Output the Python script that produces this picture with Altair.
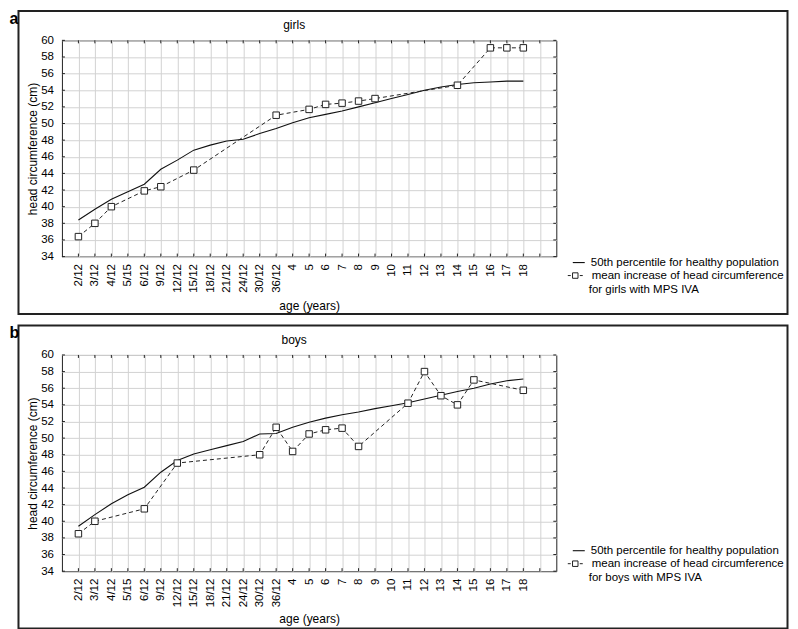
import json
import altair as alt
import pandas as pd

ages = ["2/12", "3/12", "4/12", "5/15", "6/12", "9/12", "12/12", "15/12", "18/12",
        "21/12", "24/12", "30/12", "36/12", "4", "5", "6", "7", "8", "9", "10",
        "11", "12", "13", "14", "15", "16", "17", "18"]

girls_p50 = [38.4, 39.7, 40.9, 41.8, 42.7, 44.5, 45.6, 46.8, 47.4, 47.9, 48.1, 48.8,
             49.4, 50.1, 50.7, 51.1, 51.5, 52.0, 52.5, 53.0, 53.5, 54.0, 54.4, 54.7,
             54.9, 55.0, 55.1, 55.1]
girls_mps = [36.4, 38.0, 40.0, None, 41.9, 42.4, None, 44.4, None, None, None, None,
             51.0, None, 51.7, 52.3, 52.45, 52.7, 53.0, None, None, None, None, 54.6,
             None, 59.1, 59.1, 59.1]

boys_p50 = [39.4, 40.8, 42.1, 43.2, 44.1, 45.9, 47.3, 48.1, 48.6, 49.1, 49.6, 50.5,
            50.55, 51.3, 51.9, 52.4, 52.8, 53.15, 53.55, 53.9, 54.25, 54.7, 55.15,
            55.6, 56.0, 56.5, 56.9, 57.1]
boys_mps = [38.5, 40.0, None, None, 41.5, None, 47.0, None, None, None, None, 48.0,
            51.3, 48.4, 50.5, 51.0, 51.2, 49.0, None, None, 54.2, 58.0, 55.1, 54.0,
            57.0, None, None, 55.75]

y_ticks = list(range(34, 61, 2))
x_ticks = list(range(len(ages) + 1))

FONT = "Liberation Sans"
W, H = 495, 216.5
LEFT = 61.5  # page x of plot left, used to express overlay positions
INK = "#222"


def panel(letter, title, p50, mps, legend_top, legend_text3, xtitle_y):
    df_p = pd.DataFrame({"i": list(range(len(ages))), "v": p50})
    df_m = pd.DataFrame({
        "i": [i for i, v in enumerate(mps) if v is not None],
        "v": [v for v in mps if v is not None],
    })
    df_xt = pd.DataFrame({"i": x_ticks})
    df_yt = pd.DataFrame({"v": y_ticks})
    one = pd.DataFrame({"k": [0]})

    label_expr = "datum.value < %d ? %s[datum.value] : ''" % (len(ages), json.dumps(ages))
    xscale = alt.Scale(domain=[-1, len(ages) + 1], nice=False, zero=False)
    yscale = alt.Scale(domain=[34, 60], nice=False, zero=False)
    x = alt.X("i:Q", scale=xscale,
              axis=alt.Axis(values=x_ticks, labelExpr=label_expr, labelAngle=270,
                            labelAlign="right", labelBaseline="middle",
                            labelOverlap=False,
                            title="age (years)", titleX=309 - LEFT, titleY=xtitle_y,
                            titleBaseline="middle", titleAlign="center"))
    y = alt.Y("v:Q", scale=yscale,
              axis=alt.Axis(values=y_ticks, labelOverlap=False,
                            title="head circumference (cm)",
                            titleX=-29.5, titleY=H / 2, titleAngle=270,
                            titleAlign="center", titleBaseline="middle"))

    # invisible frame that fixes the panel's extent
    guard = alt.Chart(one).mark_rect(fill="white", opacity=0).encode(
        x=alt.value(-53.5), x2=alt.value(728.5),
        y=alt.value(-31.5), y2=alt.value(276))

    box = alt.Chart(one).mark_rect(fill="transparent", stroke=INK, strokeWidth=2).encode(
        x=alt.value(18 - LEFT), x2=alt.value(788 - LEFT),
        y=alt.value(-29.5), y2=alt.value(274))

    # inward tick marks on all four sides of the plot frame
    tk = dict(color=INK, strokeWidth=1)
    t_bottom = alt.Chart(df_xt).mark_rule(**tk).encode(x=x, y=alt.value(H), y2=alt.value(H - 3))
    t_top = alt.Chart(df_xt).mark_rule(**tk).encode(x=x, y=alt.value(0), y2=alt.value(3))
    t_left = alt.Chart(df_yt).mark_rule(**tk).encode(y=y, x=alt.value(0), x2=alt.value(3))
    t_right = alt.Chart(df_yt).mark_rule(**tk).encode(y=y, x=alt.value(W - 3), x2=alt.value(W))

    solid = alt.Chart(df_p).mark_line(color="#111", strokeWidth=1.1).encode(x=x, y=y)
    dashed = alt.Chart(df_m).mark_line(color=INK, strokeWidth=1,
                                       strokeDash=[4, 3]).encode(x=x, y=y)
    pts = alt.Chart(df_m).mark_point(shape="square", filled=True, fill="white",
                                     stroke=INK, strokeWidth=1, size=42,
                                     opacity=1).encode(x=x, y=y)

    letter_t = alt.Chart(one).mark_text(text=letter, font=FONT, fontSize=16,
                                        fontWeight="bold", align="left",
                                        baseline="alphabetic", color="black").encode(
        x=alt.value(-52.5), y=alt.value(-16.5))
    title_t = alt.Chart(one).mark_text(text=title, font=FONT, fontSize=12,
                                       align="center", baseline="middle",
                                       color="black").encode(
        x=alt.value(294 - LEFT), y=alt.value(-15))

    ly1, ly2, ly3 = legend_top, legend_top + 13, legend_top + 27
    leg_line = alt.Chart(one).mark_rule(color="#111", strokeWidth=1.1).encode(
        x=alt.value(573 - LEFT), x2=alt.value(585 - LEFT), y=alt.value(ly1))
    leg_dash = alt.Chart(one).mark_rule(color=INK, strokeWidth=1,
                                        strokeDash=[3, 3]).encode(
        x=alt.value(568 - LEFT), x2=alt.value(583 - LEFT), y=alt.value(ly2))
    leg_pt = alt.Chart(one).mark_point(shape="square", filled=True, fill="white",
                                       stroke=INK, strokeWidth=1, size=30,
                                       opacity=1).encode(
        x=alt.value(575.5 - LEFT), y=alt.value(ly2))
    txt_kw = dict(font=FONT, fontSize=11.5, align="left", baseline="middle", color="black")
    leg_t1 = alt.Chart(one).mark_text(text="50th percentile for healthy population",
                                      **txt_kw).encode(x=alt.value(591 - LEFT), y=alt.value(ly1))
    leg_t2 = alt.Chart(one).mark_text(text="mean increase of head circumference",
                                      **txt_kw).encode(x=alt.value(592 - LEFT), y=alt.value(ly2))
    leg_t3 = alt.Chart(one).mark_text(text=legend_text3,
                                      **txt_kw).encode(x=alt.value(589 - LEFT), y=alt.value(ly3))

    return alt.layer(guard, box, t_bottom, t_top, t_left, t_right, solid, dashed, pts,
                     letter_t, title_t, leg_line, leg_dash, leg_pt,
                     leg_t1, leg_t2, leg_t3).properties(width=W, height=H)


top = panel("a", "girls", girls_p50, girls_mps, 222.5, "for girls with MPS IVA", 49)
bottom = panel("b", "boys", boys_p50, boys_mps, 196, "for boys with MPS IVA", 47.5)

chart = alt.vconcat(top, bottom, spacing=6).properties(
    padding=0, background="white"
).configure_view(
    stroke=INK, strokeWidth=1
).configure_axis(
    labelFont=FONT, titleFont=FONT, labelFontSize=11.5, titleFontSize=12,
    titleFontWeight="normal", labelColor="black", titleColor="black",
    tickSize=0, domain=False, grid=True, gridColor="#d2d2d2", gridWidth=1
).configure_axisX(
    labelPadding=7
).configure_axisY(
    labelPadding=8.5
)

chart.save("out.html", embed_options={"renderer": "svg", "actions": False})
